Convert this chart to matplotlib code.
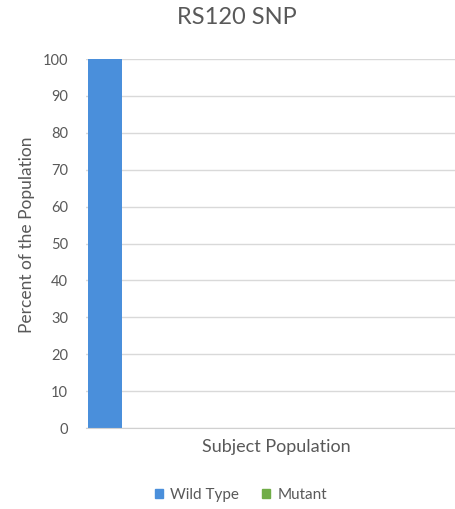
import matplotlib.pyplot as plt
from matplotlib.patches import Patch

plt.rcParams['font.family'] = ['Lato', 'DejaVu Sans']

categories = ["Subject Population"]
series = ["Wild Type", "Mutant"]
values = {"Wild Type": [100], "Mutant": [0]}
colors = {"Wild Type": "#4a8fdb", "Mutant": "#70ad47"}
yticks = list(range(0, 101, 10))

text_color = "#595959"

fig = plt.figure(figsize=(4.56, 5.09), dpi=100)
ax = fig.add_axes([0.189, 0.159, 0.811, 0.725])

# bars sit at the left of the category slot
bar_w = 0.092
for i, name in enumerate(series):
    ax.bar(0.005 + i * bar_w, values[name][0], width=bar_w, align="edge",
           color=colors[name], zorder=3)

ax.set_xlim(0, 1)
ax.set_ylim(0, 100)
ax.set_yticks(yticks)
ax.set_xticks([0.514])
ax.set_xticklabels(categories, fontsize=13, color=text_color)
ax.tick_params(axis="x", length=0, pad=8)
ax.tick_params(axis="y", length=0, pad=13, labelsize=10.5, labelcolor=text_color)

ax.grid(axis="y", color="#d9d9d9", linewidth=1, zorder=0)
for side in ["top", "right", "left"]:
    ax.spines[side].set_visible(False)
ax.spines["bottom"].set_color("#d0d0d0")
ax.spines["bottom"].set_zorder(4)

fig.text(27 / 456, 1 - 235 / 509, "Percent of the Population", rotation=90,
         ha="center", va="center", fontsize=12.5, color=text_color)
fig.text(237 / 456, 1 - 18 / 509, "RS120 SNP", ha="center", va="center",
         fontsize=17, color=text_color)

handles = [Patch(color=colors[s], label=s) for s in series]
fig.legend(handles=handles, loc="center", bbox_to_anchor=(241 / 456, 1 - 495 / 509), ncol=2,
           frameon=False, fontsize=11, handlelength=0.5, handleheight=0.5,
           handletextpad=0.5, columnspacing=1.5, labelcolor=text_color)

fig.savefig("out.png", dpi=100)
